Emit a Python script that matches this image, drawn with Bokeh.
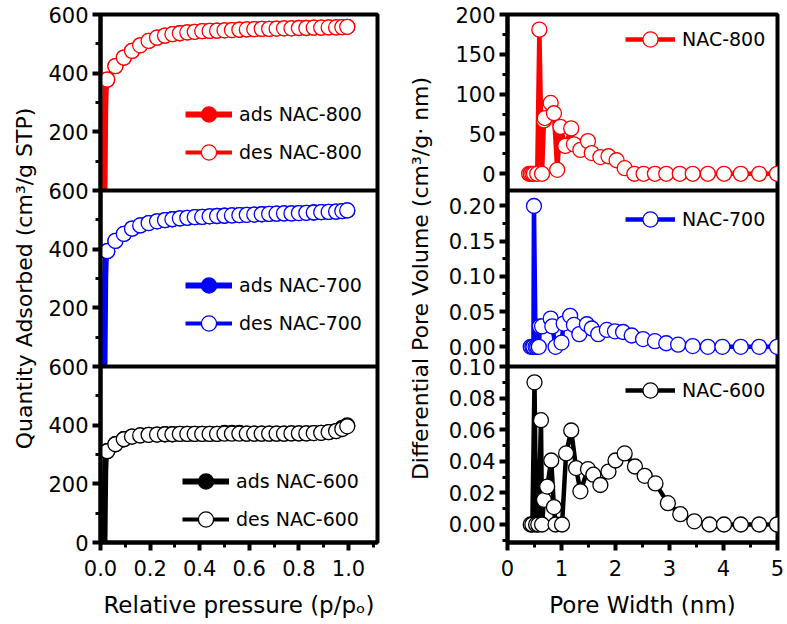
from bokeh.plotting import figure
from bokeh.models import (Range1d, FixedTicker, CustomJSTickFormatter, NumeralTickFormatter,
                          Span, Legend, LegendItem, Title)
from bokeh.layouts import row
from bokeh.embed import file_html
from bokeh.resources import INLINE

FONT = "DejaVu Sans"
RED, BLUE, BLACK = "#FF0000", "#0000FF", "#000000"

# ---------------- isotherm data (left column) ----------------
p_rel = [0.027, 0.06, 0.094, 0.127, 0.16, 0.194, 0.228, 0.26, 0.29, 0.32, 0.35, 0.38, 0.41,
         0.44, 0.47, 0.50, 0.53, 0.56, 0.59, 0.62, 0.65, 0.68, 0.71, 0.74, 0.77, 0.80, 0.83,
         0.86, 0.89, 0.92, 0.95, 0.975, 0.995]
p_low = [0.016, 0.017, 0.018, 0.019, 0.021, 0.024]

nac800_ads_low = [0, 80, 180, 280, 340, 365]
nac800_ads = [378, 424, 453, 476, 495, 510, 521, 528, 533, 536, 539, 541, 543, 544, 545, 546, 547,
              548, 549, 550, 551, 551, 552, 553, 553, 554, 554, 555, 555, 556, 556, 557, 558]
nac800_des = [378, 424, 453, 476, 495, 510, 521, 528, 533, 536, 539, 541, 543, 544, 545, 546, 547,
              548, 549, 550, 551, 551, 552, 553, 553, 554, 554, 555, 555, 556, 556, 557, 558]

nac700_ads_low = [0, 100, 200, 300, 360, 385]
nac700_ads = [393, 428, 452, 470, 481, 489, 495, 499, 502, 505, 507, 509, 510, 512, 513, 514, 515,
              516, 517, 518, 519, 520, 521, 522, 522, 523, 524, 525, 526, 527, 528, 530, 532]
nac700_des = [393, 428, 452, 470, 481, 489, 495, 499, 502, 505, 507, 509, 510, 512, 513, 514, 515,
              516, 517, 518, 519, 520, 521, 522, 522, 523, 524, 525, 526, 527, 528, 530, 532]

nac600_ads_low = [0, 80, 160, 240, 285, 305]
nac600_ads = [311, 335, 352, 361, 365, 367, 368, 369, 369, 370, 370, 370, 370, 370, 370, 374, 374,
              374, 371, 371, 371, 371, 371, 371, 372, 372, 372, 373, 374, 376, 380, 391, 399]
nac600_des = [311, 335, 352, 361, 365, 367, 368, 369, 369, 370, 370, 370, 370, 370, 370, 371, 371,
              371, 371, 371, 371, 371, 371, 371, 372, 372, 372, 373, 374, 376, 380, 387, 396]

# ---------------- pore size distribution data (right column) ----------------
psd800_w = [0.40, 0.43, 0.46, 0.49, 0.55, 0.59, 0.64, 0.675, 0.69, 0.80, 0.86, 0.92, 0.98, 1.07,
            1.18, 1.23, 1.35, 1.49, 1.56, 1.72, 1.87, 2.02, 2.17, 2.35, 2.52, 2.73, 2.94, 3.19,
            3.43, 3.71, 4.01, 4.32, 4.66, 4.99]
psd800_v = [0, 0, 0, 0, 0, 181, 0, 67, 70, 89, 76, 5, 59, 35, 57, 37, 30, 41, 26, 21, 22, 17, 7,
            0, 0, 0, 0, 0, 0, 0, 0, 0, 0, 0]

psd700_w = [0.43, 0.46, 0.48, 0.49, 0.52, 0.55, 0.58, 0.60, 0.64, 0.80, 0.83, 0.89, 1.00, 1.04,
            1.16, 1.23, 1.33, 1.47, 1.56, 1.68, 1.84, 1.99, 2.14, 2.30, 2.51, 2.73, 2.94, 3.16,
            3.43, 3.71, 3.98, 4.32, 4.66, 4.99]
psd700_v = [0, 0, 0, 0.200, 0, 0, 0, 0.029, 0.029, 0.040, 0.029, 0, 0.006, 0.033, 0.044, 0.031,
            0.018, 0.032, 0.026, 0.018, 0.024, 0.022, 0.021, 0.016, 0.011, 0.008, 0.005, 0.003,
            0.001, 0, 0, 0, 0, 0]

psd600_w = [0.43, 0.46, 0.50, 0.53, 0.57, 0.62, 0.64, 0.675, 0.735, 0.81, 0.86, 0.89, 1.01, 1.085,
            1.18, 1.27, 1.35, 1.49, 1.59, 1.72, 1.87, 2.00, 2.17, 2.36, 2.54, 2.74, 2.97, 3.20,
            3.46, 3.74, 4.01, 4.32, 4.66, 4.99]
psd600_v = [0, 0, 0.090, 0, 0, 0.066, 0, 0.0156, 0.024, 0.0405, 0.011, 0, 0, 0.045, 0.0595,
            0.0357, 0.021, 0.035, 0.0315, 0.025, 0.0335, 0.0405, 0.045, 0.0367, 0.0308, 0.026,
            0.0135, 0.0065, 0.002, 0, 0, 0, 0, 0]

# ---------------- axis ticks ----------------
left_x_ticks = [0.0, 0.2, 0.4, 0.6, 0.8, 1.0]
left_x_minor = [0.1, 0.3, 0.5, 0.7, 0.9, 1.1]
right_x_ticks = [0, 1, 2, 3, 4, 5]
right_x_minor = [0.5, 1.5, 2.5, 3.5, 4.5]

iso_y_ticks = [0, 200, 400, 600]
iso_y_labels = ["0", "200", "400", "600"]
iso_y_minor = [100, 300, 500]

psd800_y_ticks = [0, 50, 100, 150, 200]
psd800_y_labels = ["0", "50", "100", "150", "200"]
psd800_y_minor = [25, 75, 125, 175]
psd700_y_ticks = [0.0, 0.05, 0.10, 0.15, 0.20]
psd700_y_labels = ["0.00", "0.05", "0.10", "0.15", "0.20"]
psd700_y_minor = [0.025, 0.075, 0.125, 0.175]
psd600_y_ticks = [0.0, 0.02, 0.04, 0.06, 0.08, 0.10]
psd600_y_labels = ["0.00", "0.02", "0.04", "0.06", "0.08", "0.10"]
psd600_y_minor = [-0.01, 0.01, 0.03, 0.05, 0.07, 0.09]

FMT_JS = """
let best = 0;
for (let i = 0; i < pos.length; i++) {
  if (Math.abs(pos[i] - tick) < Math.abs(pos[best] - tick)) best = i;
}
return labels[best];
"""

FRAME_H = 528
TOP, BOTTOM = 14, 80
H = TOP + FRAME_H + BOTTOM


def style_axis(ax, size, standoff):
    ax.axis_line_width = 4
    ax.axis_line_color = BLACK
    ax.major_tick_line_width = 4
    ax.major_tick_out = 8
    ax.major_tick_in = 0
    ax.minor_tick_line_width = 3
    ax.minor_tick_out = 5
    ax.minor_tick_in = 0
    ax.major_label_text_font = FONT
    ax.major_label_text_font_size = size
    ax.major_label_text_color = BLACK
    ax.major_label_standoff = standoff


def build(width, bl, br, xr, panels, xticks, xminor, xfmt, xlabel, ylabel, yoffset, ystand):
    p = figure(width=width, height=H, x_range=Range1d(*xr), y_range=Range1d(0, 3),
               output_backend="svg", toolbar_location=None,
               min_border_left=bl, min_border_right=br, min_border_top=TOP,
               min_border_bottom=BOTTOM)
    p.grid.visible = False
    p.outline_line_color = BLACK
    p.outline_line_width = 4
    p.outline_line_alpha = 1
    p.background_fill_color = "white"
    p.border_fill_color = "white"

    pos, labs, minor = [], [], []
    for name, k, lo, hi, tv, tl, mv, skip0 in panels:
        p.extra_y_ranges[name] = Range1d(lo - k * (hi - lo), hi + (2 - k) * (hi - lo))
        for v, l in zip(tv, tl):
            if skip0 and v == 0:
                continue
            pos.append(k + (v - lo) / (hi - lo))
            labs.append(l)
        for v in mv:
            minor.append(k + (v - lo) / (hi - lo))
    order = sorted(range(len(pos)), key=lambda i: pos[i])
    pos = [pos[i] for i in order]
    labs = [labs[i] for i in order]

    ya = p.yaxis[0]
    ya.ticker = FixedTicker(ticks=pos, minor_ticks=sorted(minor))
    ya.formatter = CustomJSTickFormatter(args=dict(pos=pos, labels=labs), code=FMT_JS)
    style_axis(ya, "21px", 4)

    xa = p.xaxis[0]
    xa.ticker = FixedTicker(ticks=xticks, minor_ticks=xminor)
    if xfmt:
        xa.formatter = NumeralTickFormatter(format=xfmt)
    style_axis(xa, "21px", 9)
    xa.axis_label = xlabel
    xa.axis_label_text_font = FONT
    xa.axis_label_text_font_size = "23px"
    xa.axis_label_text_font_style = "normal"
    xa.axis_label_text_color = BLACK
    xa.axis_label_standoff = 13

    for loc in (1, 2):
        p.add_layout(Span(location=loc, dimension="width", line_color=BLACK, line_width=4))

    t = Title(text=ylabel, align="center", offset=yoffset, standoff=ystand,
              text_font=FONT, text_font_size="22px", text_font_style="normal",
              text_color=BLACK)
    p.add_layout(t, "left")
    return p


def legend(p, items, loc, gw):
    lg = Legend(items=items, location=loc, padding=0, margin=0, spacing=-13,
                glyph_height=38, glyph_width=gw, label_standoff=7,
                label_text_font=FONT, label_text_font_size="19px",
                label_text_color=BLACK, background_fill_alpha=0,
                border_line_alpha=0)
    p.add_layout(lg, "center")


# ---------------- left column ----------------
left = build(392, 100, 15, (0, 1.117),
             [("i800", 2, 0, 600, iso_y_ticks, iso_y_labels, iso_y_minor, True),
              ("i700", 1, 0, 600, iso_y_ticks, iso_y_labels, iso_y_minor, True),
              ("i600", 0, 0, 600, iso_y_ticks, iso_y_labels, iso_y_minor, False)],
             left_x_ticks, left_x_minor, "0.0", "Relative pressure (p/pₒ)",
             "Quantity Adsorbed (cm³/g STP)", 44, 18)

iso_sets = [("i800", "NAC-800", RED, nac800_ads_low, nac800_ads, nac800_des, (85, 371)),
            ("i700", "NAC-700", BLUE, nac700_ads_low, nac700_ads, nac700_des, (85, 200)),
            ("i600", "NAC-600", BLACK, nac600_ads_low, nac600_ads, nac600_des, (82, 4))]
for rn, name, col, alow, ads, des, loc in iso_sets:
    la = left.line(p_low + p_rel, alow + ads, line_color=col, line_width=6, y_range_name=rn)
    ld = left.line(p_rel, des, line_color=col, line_width=4, y_range_name=rn)
    sa = left.scatter(p_rel, ads, marker="circle", size=15, fill_color=col, line_color=col,
                      line_width=1.3, y_range_name=rn)
    sd = left.scatter(p_rel, des, marker="circle", size=15, fill_color="white", line_color=col,
                      line_width=1.3, y_range_name=rn)
    legend(left, [LegendItem(label="ads " + name, renderers=[la, sa]),
                  LegendItem(label="des " + name, renderers=[ld, sd])], loc, 47)

# ---------------- right column ----------------
right = build(395, 111, 10, (0, 5.0),
              [("d800", 2, -21, 200, psd800_y_ticks, psd800_y_labels, psd800_y_minor, False),
               ("d700", 1, -0.028, 0.222, psd700_y_ticks, psd700_y_labels, psd700_y_minor, False),
               ("d600", 0, -0.0114, 0.10, psd600_y_ticks, psd600_y_labels, psd600_y_minor, False)],
              right_x_ticks, right_x_minor, None, "Pore Width (nm)",
              "Differential Pore Volume (cm³/g· nm)", 12, 26)

psd_sets = [("d800", "NAC-800", RED, psd800_w, psd800_v, (118, 484)),
            ("d700", "NAC-700", BLUE, psd700_w, psd700_v, (118, 304)),
            ("d600", "NAC-600", BLACK, psd600_w, psd600_v, (118, 133))]
for rn, name, col, w, v, loc in psd_sets:
    ln = right.line(w, v, line_color=col, line_width=4.5, y_range_name=rn)
    sc = right.scatter(w, v, marker="circle", size=15, fill_color="white", line_color=col,
                       line_width=1.3, y_range_name=rn)
    legend(right, [LegendItem(label=name, renderers=[ln, sc])], loc, 50)

layout = row(left, right)
open("out.html", "w").write(file_html(layout, INLINE))
